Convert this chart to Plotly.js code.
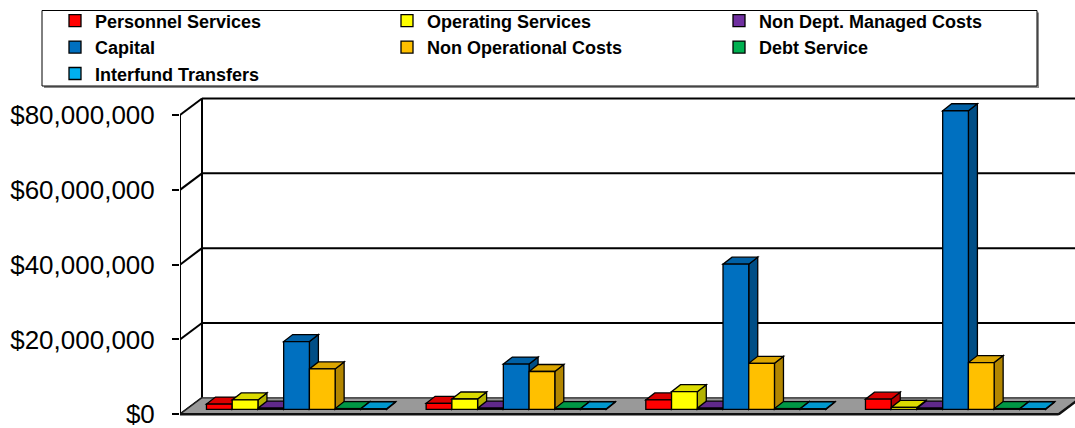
<!DOCTYPE html>
<html>
<head>
<meta charset="utf-8">
<script src="https://cdn.plot.ly/plotly-3.0.1.min.js"></script>
<style>html,body{margin:0;padding:0;background:#fff;}#chart{width:1075px;height:428px;}</style>
</head>
<body>
<div id="chart"></div>
<script>
// ---- data ----
const categories = ['Period 1', 'Period 2', 'Period 3', 'Period 4'];
const seriesNames = ['Personnel Services', 'Operating Services', 'Non Dept. Managed Costs',
  'Capital', 'Non Operational Costs', 'Debt Service', 'Interfund Transfers'];
const personnelServices   = [1400000, 1600000, 2500000, 2700000];
const operatingServices   = [2500000, 2750000, 4700000, 500000];
const nonDeptManagedCosts = [300000, 300000, 300000, 300000];
const capital             = [18100000, 12100000, 38800000, 79800000];
const nonOperationalCosts = [10800000, 10100000, 12300000, 12500000];
const debtService         = [200000, 200000, 200000, 200000];
const interfundTransfers  = [150000, 150000, 150000, 150000];
const yTicks = [0, 20000000, 40000000, 60000000, 80000000];

const seriesValues = [personnelServices, operatingServices, nonDeptManagedCosts,
  capital, nonOperationalCosts, debtService, interfundTransfers];
const seriesColors = ['#FF0000', '#FFFF00', '#7030A0', '#0070C0', '#FFC000', '#00B050', '#00B0F0'];

// ---- geometry (pixel-based pseudo-3D) ----
const W = 1075, H = 428, L = 180, R = 0, T = 92, B = 8;
const plotW = W - L - R, plotH = H - T - B;
const P = 219.67;               // px per category
const S = 299.3 / 80000000;     // px per dollar
const zeroPx = 414.3;           // front-plane zero, page px
const xr = [-0.5, -0.5 + plotW / P];
const yr = [-(H - B - zeroPx) / S, (zeroPx - T) / S];
const wallDx = 22 / P, wallDy = 16.5 / S;
const barShiftX = 6.7 / P, barShiftY = 5 / S;
const faceDx = 9 / P, faceDy = 7 / S;
const bargap = 0.18;
const nS = seriesNames.length;
const bw = (1 - bargap) / nS;
const xs = categories.map((c, i) => i);
const yMax = yTicks[yTicks.length - 1];

function shade(hex, f) {
  const n = parseInt(hex.slice(1), 16);
  const r = Math.round(((n >> 16) & 255) * f), g = Math.round(((n >> 8) & 255) * f), b = Math.round((n & 255) * f);
  return 'rgb(' + r + ',' + g + ',' + b + ')';
}
function poly(pts) {
  return 'M' + pts.map(p => p[0] + ',' + p[1]).join('L') + 'Z';
}
const px2paperX = px => (px - L) / plotW;
const px2paperY = py => (H - B - py) / plotH;

const shapes = [];
const lineStyle = {color: '#000', width: 2};
// back wall gridlines
yTicks.forEach(v => {
  if (v === 0) return;
  shapes.push({type: 'line', xref: 'x', yref: 'y', layer: 'below',
    x0: xr[0] + wallDx, x1: xr[1] + 1, y0: v + wallDy, y1: v + wallDy, line: lineStyle});
});
// back wall left edge
shapes.push({type: 'line', xref: 'x', yref: 'y', layer: 'below',
  x0: xr[0] + wallDx, x1: xr[0] + wallDx, y0: wallDy, y1: yMax + wallDy, line: lineStyle});
// left wall diagonals
yTicks.forEach(v => {
  shapes.push({type: 'line', xref: 'x', yref: 'y', layer: 'below',
    x0: xr[0], x1: xr[0] + wallDx, y0: v, y1: v + wallDy, line: lineStyle});
});
// front vertical edge
shapes.push({type: 'line', xref: 'x', yref: 'y', layer: 'below',
  x0: xr[0], x1: xr[0], y0: 0, y1: yMax, line: lineStyle});
// floor
const floorRight = xr[0] + categories.length;
shapes.push({type: 'path', xref: 'x', yref: 'y', layer: 'below',
  path: poly([[xr[0], 0], [floorRight, 0], [floorRight + wallDx, wallDy], [xr[0] + wallDx, wallDy]]),
  fillcolor: '#999999', line: {color: '#222', width: 1.2}});
shapes.push({type: 'line', xref: 'x', yref: 'y', layer: 'below',
  x0: xr[0], x1: floorRight, y0: 0, y1: 0, line: {color: '#111', width: 2.5}});
shapes.push({type: 'line', xref: 'x', yref: 'y', layer: 'below',
  x0: floorRight, x1: floorRight + wallDx, y0: 0, y1: wallDy, line: {color: '#111', width: 2.5}});

// bar side and top faces (painter's order, left to right)
xs.forEach((xc, i) => {
  seriesValues.forEach((vals, k) => {
    const v = vals[i];
    const l = xc - (1 - bargap) / 2 + k * bw, r = l + bw;
    const col = seriesColors[k];
    shapes.push({type: 'path', xref: 'x2', yref: 'y2', layer: 'below',
      path: poly([[r, 0], [r, v], [r + faceDx, v + faceDy], [r + faceDx, faceDy]]),
      fillcolor: shade(col, 0.7), line: {color: '#000', width: 1.3}});
    shapes.push({type: 'path', xref: 'x2', yref: 'y2', layer: 'below',
      path: poly([[l, v], [r, v], [r + faceDx, v + faceDy], [l + faceDx, v + faceDy]]),
      fillcolor: shade(col, 0.86), line: {color: '#000', width: 1.3}});
  });
});

// legend frame with shadow
const lgBox = {x0: 42, x1: 1037, y0: 10.5, y1: 86};
shapes.push({type: 'rect', xref: 'paper', yref: 'paper', layer: 'above',
  x0: px2paperX(lgBox.x0 + 2), x1: px2paperX(lgBox.x1 + 2), y0: px2paperY(lgBox.y1 + 2), y1: px2paperY(lgBox.y0 + 2),
  fillcolor: '#8a8a8a', line: {width: 0}});
shapes.push({type: 'rect', xref: 'paper', yref: 'paper', layer: 'above',
  x0: px2paperX(lgBox.x0), x1: px2paperX(lgBox.x1), y0: px2paperY(lgBox.y1), y1: px2paperY(lgBox.y0),
  fillcolor: '#fff', line: {color: '#000', width: 1}});

const traces = seriesValues.map((vals, k) => ({
  type: 'bar', name: seriesNames[k], x: xs, y: vals,
  xaxis: 'x2', yaxis: 'y2',
  marker: {color: seriesColors[k], line: {color: '#000', width: 1.3}},
  hovertemplate: '%{y:$,.0f}<extra>' + seriesNames[k] + '</extra>'
}));

const layout = {
  width: W, height: H,
  margin: {l: L, r: R, t: T, b: B, pad: 0},
  paper_bgcolor: '#fff', plot_bgcolor: 'rgba(0,0,0,0)',
  barmode: 'group', bargap: bargap, bargroupgap: 0,
  showlegend: true,
  legend: {
    orientation: 'h', xref: 'paper', yref: 'paper',
    x: px2paperX(55), y: px2paperY(2.5), xanchor: 'left', yanchor: 'top',
    bgcolor: 'rgba(0,0,0,0)', borderwidth: 0,
    entrywidth: 287, traceorder: 'normal',
    font: {family: 'Liberation Sans, Arial, sans-serif', size: 18, color: '#000', weight: 'bold'}
  },
  xaxis: {range: xr, visible: false, fixedrange: true},
  yaxis: {
    range: yr, fixedrange: true, showgrid: false, zeroline: false, showline: false,
    tickmode: 'array', tickvals: yTicks,
    ticktext: yTicks.map(v => '$' + v.toLocaleString('en-US')),
    ticks: 'outside', ticklen: 7, tickwidth: 2, tickcolor: '#000',
    ticklabelstandoff: 12, ticklabeloverflow: 'allow',
    tickfont: {family: 'Liberation Sans, Arial, sans-serif', size: 26, color: '#000'}
  },
  xaxis2: {overlaying: 'x', range: [xr[0] - barShiftX, xr[1] - barShiftX], visible: false, fixedrange: true},
  yaxis2: {overlaying: 'y', range: [yr[0] - barShiftY, yr[1] - barShiftY], visible: false, fixedrange: true},
  shapes: shapes
};

Plotly.newPlot('chart', traces, layout, {displayModeBar: false, staticPlot: true});
</script>
</body>
</html>
